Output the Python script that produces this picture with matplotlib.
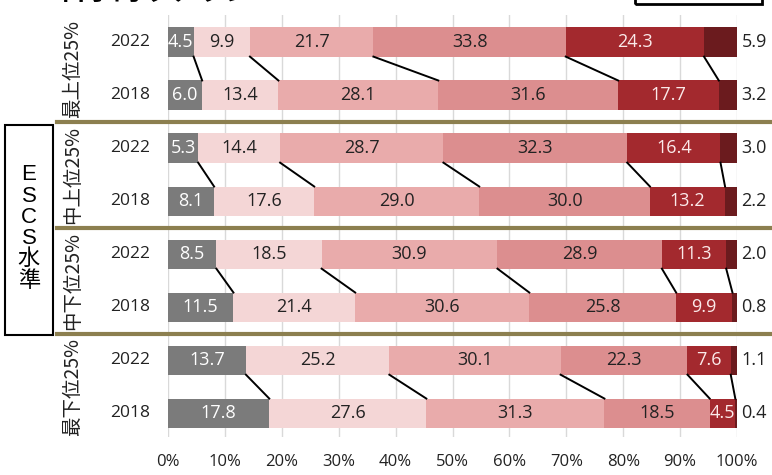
import matplotlib
matplotlib.use("Agg")
import matplotlib.pyplot as plt
from matplotlib.patches import Rectangle
import numpy as np

plt.rcParams['font.family'] = ['Noto Sans CJK JP', 'DejaVu Sans']

groups = ["最上位25%", "中上位25%", "中下位25%", "最下位25%"]
years = ["2022", "2018"]
seg1 = [4.5, 6.0, 5.3, 8.1, 8.5, 11.5, 13.7, 17.8]
seg2 = [9.9, 13.4, 14.4, 17.6, 18.5, 21.4, 25.2, 27.6]
seg3 = [21.7, 28.1, 28.7, 29.0, 30.9, 30.6, 30.1, 31.3]
seg4 = [33.8, 31.6, 32.3, 30.0, 28.9, 25.8, 22.3, 18.5]
seg5 = [24.3, 17.7, 16.4, 13.2, 11.3, 9.9, 7.6, 4.5]
seg6 = [5.9, 3.2, 3.0, 2.2, 2.0, 0.8, 1.1, 0.4]
xticks = [0, 10, 20, 30, 40, 50, 60, 70, 80, 90, 100]

segs = [seg1, seg2, seg3, seg4, seg5, seg6]
colors = ["#7b7b7b", "#f4d6d6", "#e9abab", "#dc8e8f", "#a3292e", "#6b1b1e"]
txtcol = ["white", "#222222", "#222222", "#222222", "#fbeaea", "#222222"]
numfont = ['Open Sans', 'DejaVu Sans']

W, H = 772, 475
fig = plt.figure(figsize=(W / 100, H / 100), dpi=100)
ax = fig.add_axes([168 / W, 1 - 437 / H, (737 - 168) / W, (437 - 15) / H])

n = len(seg1)
y = np.arange(n)
h = 0.55
left = np.zeros(n)
cums = []
for k, (vals, c) in enumerate(zip(segs, colors)):
    vals = np.array(vals)
    ax.barh(y, vals, left=left, height=h, color=c, zorder=3)
    for i in range(n):
        if k < 5:
            ax.text(left[i] + vals[i] / 2, y[i], f"{vals[i]:.1f}", ha="center", va="center",
                    fontsize=13, color=txtcol[k], zorder=5, family=numfont)
        else:
            ax.text(100.8, y[i], f"{vals[i]:.1f}", ha="left", va="center",
                    fontsize=13, color="#222222", zorder=5, clip_on=False, family=numfont)
    left = left + vals
    cums.append(left.copy())

# connector lines between 2022 and 2018 bars
for g in range(4):
    a, b = 2 * g, 2 * g + 1
    for k in range(5):
        ax.plot([cums[k][a], cums[k][b]], [y[a] + h / 2, y[b] - h / 2],
                color="black", lw=1.4, zorder=4)

ax.set_xlim(0, 100)
ax.set_ylim(7.45, -0.51)
ax.set_xticks(xticks)
ax.set_xticklabels([f"{t}%" for t in xticks], fontsize=12, color="#222222", family=numfont)
ax.set_yticks([])
ax.tick_params(axis="x", length=0, pad=12)
ax.grid(axis="x", color="#d9d9d9", lw=1, zorder=0)
for s in ax.spines.values():
    s.set_visible(False)

trans = matplotlib.transforms.blended_transform_factory(ax.transAxes, ax.transData)
for sy in [1.5, 3.5, 5.5]:
    ax.plot([(57 - 168) / 569, (772 - 168) / 569], [sy, sy], color="#8c7f4f", lw=3,
            transform=trans, clip_on=False, zorder=6)

trans2 = matplotlib.transforms.blended_transform_factory(fig.transFigure, ax.transData)
for i in range(n):
    ax.text(130 / W, y[i], years[i % 2], transform=trans2, ha="center", va="center",
            fontsize=12.5, color="#222222", family=numfont)
for g in range(4):
    ax.text(73 / W, 2 * g + 0.5, groups[g], transform=trans2, ha="center", va="center",
            rotation=90, fontsize=14, color="#222222")

# ESCS box
fig.patches.append(Rectangle((5 / W, 1 - 335 / H), 48 / W, 210 / H, transform=fig.transFigure,
                             fill=False, edgecolor="black", lw=1.5))
fig.text(29 / W, 1 - 228 / H, "E\nS\nC\nS\n水\n準", ha="center", va="center",
         fontsize=16, linespacing=1.02, color="black",
         family=['Liberation Sans', 'Noto Sans CJK JP'])

# clipped title and box at the top
fig.text(58 / W, 1 - 6 / H, "科学的リテラシー", ha="left", va="bottom", fontsize=20,
         fontweight="bold", color="black")
fig.patches.append(Rectangle((635 / W, 1 - 4 / H), 127 / W, 20 / H, transform=fig.transFigure,
                             fill=False, edgecolor="black", lw=2))

fig.savefig("out.png", dpi=100)
